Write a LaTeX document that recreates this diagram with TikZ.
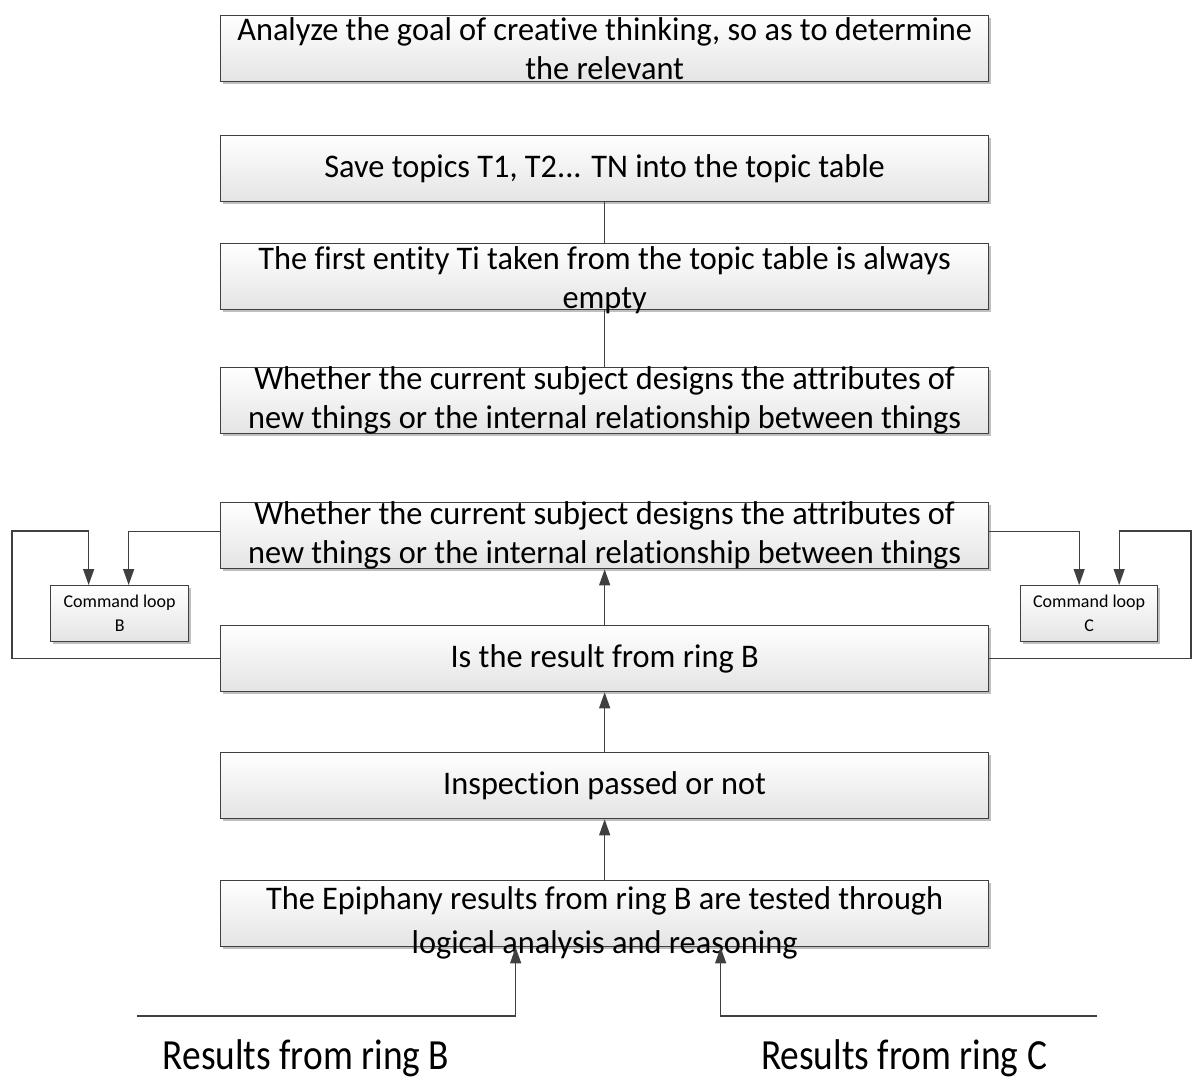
\documentclass[tikz,border=0pt]{standalone}
\usepackage{fontspec}
\setmainfont[Ligatures=NoCommon]{Carlito}
\newfontfamily\boxfont[FakeStretch=0.98,Ligatures=NoCommon]{Carlito}
\newfontfamily\labfont[FakeStretch=0.87,Ligatures=NoCommon]{Carlito}
\usetikzlibrary{arrows.meta,shadows}
\definecolor{boxline}{HTML}{404040}
\definecolor{boxbot}{HTML}{E4E4E4}
\definecolor{conncol}{HTML}{404040}
\begin{document}
\begin{tikzpicture}[x=1pt,y=-1pt,
  box/.style={draw=boxline, line width=1.3pt, top color=white, bottom color=boxbot,
    rectangle, inner sep=0pt, anchor=north west,
    drop shadow={shadow xshift=2.5pt, shadow yshift=-2.5pt, fill=black, opacity=0.25}},
  bigbox/.style={box, minimum width=768pt, minimum height=66pt},
  btext/.style={align=center, inner sep=0pt, font=\boxfont\fontsize{33}{39}\selectfont},
  stext/.style={align=center, inner sep=0pt, font=\fontsize{18}{24}\selectfont},
  ltext/.style={inner sep=0pt, font=\labfont\fontsize{43}{50}\selectfont},
  conn/.style={draw=conncol, line width=1.2pt},
  arr/.style={conn, -{Triangle[length=16pt,width=11pt]}, shorten >=0pt},
]
\useasboundingbox (0,0) rectangle (1192,1082);

\node[bigbox] (b1) at (220,15) {};
\node[bigbox] (b2) at (220,135) {};
\node[bigbox] (b3) at (220,243) {};
\node[bigbox] (b4) at (220,367) {};
\node[bigbox] (b5) at (220,502) {};
\node[bigbox] (b6) at (220,625) {};
\node[bigbox] (b7) at (220,752) {};
\node[bigbox] (b8) at (220,880) {};
\node[box, minimum width=138pt, minimum height=56pt] (cb) at (50,585) {};
\node[box, minimum width=137pt, minimum height=56pt] (cc) at (1020,585) {};

\node[btext] (t1) at (b1.center) {Analyze the goal of creative thinking, so as to determine\\the relevant};
\node[btext] (t2) at (b2.center) {Save topics T1, T2... TN into the topic table};
\node[btext] (t3) at ([yshift=-4pt]b3.center) {The first entity Ti taken from the topic table is always\\empty};
\node[btext] (t4) at (b4.center) {Whether the current subject designs the attributes of\\new things or the internal relationship between things};
\node[btext] (t5) at (b5.center) {Whether the current subject designs the attributes of\\new things or the internal relationship between things};
\node[btext] (t6) at (b6.center) {Is the result from ring B};
\node[btext] (t7) at (b7.center) {Inspection passed or not};
\node[btext, font=\boxfont\fontsize{33}{44}\selectfont] (t8) at ([yshift=-9pt]b8.center) {The Epiphany results from ring B are tested through\\logical analysis and reasoning};
\node[stext] (tcb) at (cb.center) {Command loop\\B};
\node[stext] (tcc) at (cc.center) {Command loop\\C};

\node[ltext] (lb) at (306,1058) {Results from ring B};
\node[ltext] (lc) at (904,1058) {Results from ring C};

% vertical connectors
\draw[conn] (b2.south) -- (b3.north);
\draw[conn] (b3.south) -- (b4.north);
\draw[arr] (b6.north) -- (b5.south);
\draw[arr] (b7.north) -- (b6.south);
\draw[arr] (b8.north) -- (b7.south);

% left command loop
\coordinate (lcorner) at (12,531);
\draw[arr] ([yshift=4pt]b5.west) -| ([xshift=9pt]cb.north);
\draw[arr] (b6.west) -| (lcorner) -| ([xshift=-31pt]cb.north);

% right command loop
\coordinate (rcorner) at (1191,531);
\draw[arr] ([yshift=4pt]b5.east) -| ([xshift=-10pt]cc.north);
\draw[arr] (b6.east) -| (rcorner) -| ([xshift=30pt]cc.north);

% bottom inputs
\coordinate (inb) at (137,1016);
\coordinate (inc) at (1097,1016);
\draw[arr] (inb) -| ([xshift=-89pt]b8.south);
\draw[arr] (inc) -| ([xshift=116pt]b8.south);
\end{tikzpicture}
\end{document}
